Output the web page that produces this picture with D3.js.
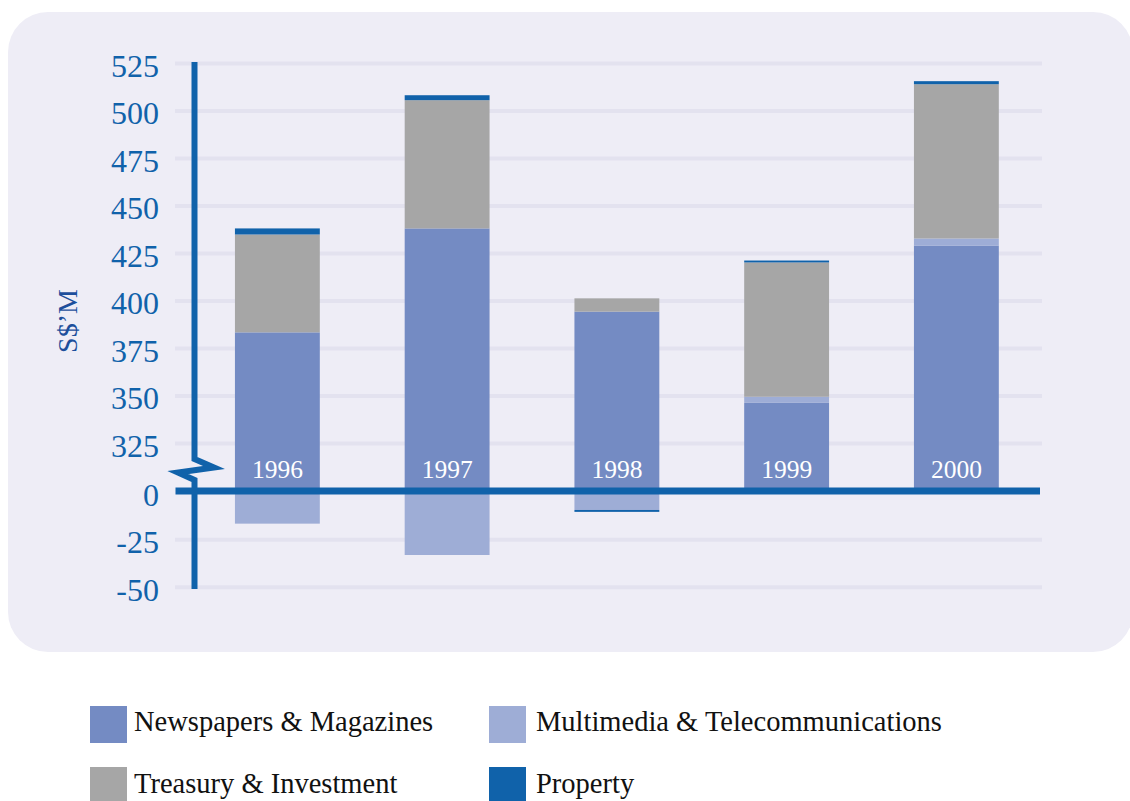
<!DOCTYPE html>
<html>
<head>
<meta charset="utf-8">
<script src="https://cdn.jsdelivr.net/npm/d3@7"></script>
<style>
  html, body { margin: 0; padding: 0; background: #ffffff; }
  svg { display: block; }
</style>
</head>
<body>
<svg id="chart" width="1130" height="801"></svg>
<script>
// ---- data ----
const years = ["1996", "1997", "1998", "1999", "2000"];
const newspapers = [383.5, 438.2, 394.4, 346.4, 429.2];
const multimedia = [-16.5, -33.0, -9.3, 3.2, 3.7];
const treasury   = [51.5, 67.5, 7.0, 70.7, 81.2];
const property   = [3.2, 2.6, -1.0, 1.0, 1.6];
const seriesNames = ["Newspapers & Magazines", "Multimedia & Telecommunications", "Treasury & Investment", "Property"];
const tickValues = [-50, -25, 0, 325, 350, 375, 400, 425, 450, 475, 500, 525];
const yTitle = "S$\u2019M";

// ---- build ----
const keys = ["news", "multi", "treas", "prop"];
const colors = { news: "#748bc3", multi: "#9eadd6", treas: "#a6a6a6", prop: "#1062aa" };
const rows = years.map((y, i) => ({ year: y, news: newspapers[i], multi: multimedia[i], treas: treasury[i], prop: property[i] }));

const svg = d3.select("#chart");

// background panel
svg.append("rect").attr("x", 8).attr("y", 12).attr("width", 1125).attr("height", 640)
  .attr("rx", 40).attr("ry", 40).attr("fill", "#eeedf6");

// broken scale: lower segment [-50,0], upper segment [300,525]
const y = d3.scaleLinear()
  .domain([-50, 0, 300, 525])
  .range([587.3, 492.3, 491, 63.5]);

const x = d3.scaleBand().domain(years).range([192.5, 1041.25]).paddingInner(0.5).paddingOuter(0.25);

// grid lines
svg.append("g").selectAll("line").data(tickValues.filter(v => v !== 0)).join("line")
  .attr("x1", 175).attr("x2", 1042)
  .attr("y1", d => y(d)).attr("y2", d => y(d))
  .attr("stroke", "#e3e2ef").attr("stroke-width", 4);

// stacked bars
const stack = d3.stack().keys(keys).offset(d3.stackOffsetDiverging);
const stacked = stack(rows);
svg.append("g").selectAll("g").data(stacked).join("g")
  .attr("fill", d => colors[d.key])
  .selectAll("rect").data(d => d).join("rect")
  .attr("x", d => x(d.data.year))
  .attr("width", x.bandwidth())
  .attr("y", d => Math.min(y(d[0]), y(d[1])))
  .attr("height", d => Math.abs(y(d[0]) - y(d[1])));

// year labels inside bars
svg.append("g").selectAll("text").data(years).join("text")
  .attr("x", d => x(d) + x.bandwidth() / 2)
  .attr("y", y(0) - 14)
  .attr("text-anchor", "middle")
  .attr("fill", "#ffffff")
  .attr("font-family", "Liberation Serif, serif")
  .attr("font-size", 25.5)
  .text(d => d);

// y axis tick labels via d3 axis
const axis = d3.axisLeft(y).tickValues(tickValues).tickSize(0).tickPadding(0).tickFormat(d => String(d));
const ag = svg.append("g").attr("transform", "translate(159,0)").call(axis);
ag.select(".domain").remove();
ag.selectAll("text")
  .attr("fill", "#1062aa")
  .attr("font-family", "Liberation Serif, serif")
  .attr("font-size", 32)
  .attr("dy", null)
  .attr("transform", "translate(0,5.5)")
  .attr("dominant-baseline", "middle");

// axis lines
const axisColor = "#1062aa";
svg.append("line").attr("x1", 175.5).attr("x2", 1040).attr("y1", 491).attr("y2", 491)
  .attr("stroke", axisColor).attr("stroke-width", 7);
svg.append("path")
  .attr("d", "M194.5,62 L194.5,459 L214,467.5 L178,472.5 L194.5,480 L194.5,589")
  .attr("fill", "none").attr("stroke", axisColor).attr("stroke-width", 6)
  .attr("stroke-linejoin", "miter").attr("stroke-miterlimit", 10);

// y title
svg.append("text")
  .attr("transform", "translate(77,321) rotate(-90)")
  .attr("text-anchor", "middle")
  .attr("fill", "#1d4f9c")
  .attr("font-family", "Liberation Serif, serif")
  .attr("font-size", 28)
  .text(yTitle);

// legend
const legendPos = [
  { k: "news", sx: 90, sy: 706, tx: 134, ty: 731 },
  { k: "multi", sx: 489, sy: 706, tx: 536, ty: 731 },
  { k: "treas", sx: 90, sy: 767, tx: 134, ty: 793 },
  { k: "prop", sx: 489, sy: 767, tx: 536, ty: 793 }
];
const lg = svg.append("g");
legendPos.forEach((p, i) => {
  lg.append("rect").attr("x", p.sx).attr("y", p.sy).attr("width", 37).attr("height", 37).attr("fill", colors[p.k]);
  lg.append("text").attr("x", p.tx).attr("y", p.ty)
    .attr("fill", "#111111")
    .attr("font-family", "Liberation Serif, serif")
    .attr("font-size", 28.5)
    .text(seriesNames[i]);
});
</script>
</body>
</html>
